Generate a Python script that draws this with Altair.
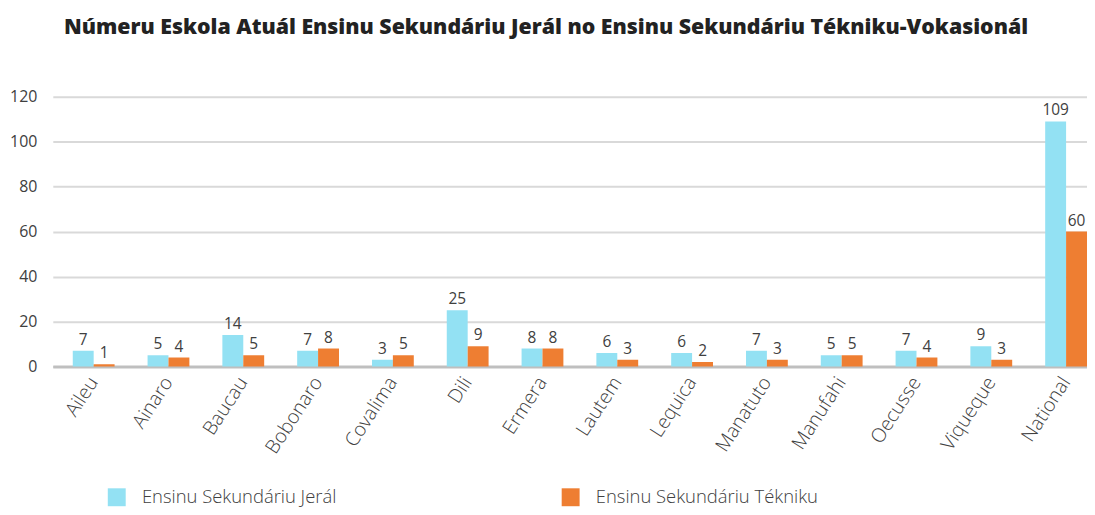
import altair as alt
import pandas as pd

districts = ["Aileu", "Ainaro", "Baucau", "Bobonaro", "Covalima", "Dili", "Ermera",
             "Lautem", "Lequica", "Manatuto", "Manufahi", "Oecusse", "Viqueque", "National"]
jeral = [7, 5, 14, 7, 3, 25, 8, 6, 6, 7, 5, 7, 9, 109]
tekniku = [1, 4, 5, 8, 5, 9, 8, 3, 2, 3, 5, 4, 3, 60]
series = ["Ensinu Sekundáriu Jerál", "Ensinu Sekundáriu Tékniku"]
colors = ["#93e1f3", "#ee7e32"]
y_ticks = [0, 20, 40, 60, 80, 100, 120]
title_text = "Númeru Eskola Atuál Ensinu Sekundáriu Jerál no Ensinu Sekundáriu  Tékniku-Vokasionál"

rows = []
for d, a, b in zip(districts, jeral, tekniku):
    rows.append({"district": d, "series": series[0], "value": a})
    rows.append({"district": d, "series": series[1], "value": b})
df = pd.DataFrame(rows)

FONT = "Open Sans"
TXT = "#404040"

x_enc = alt.X("district:N", sort=districts, title=None,
              scale=alt.Scale(paddingInner=0.441, paddingOuter=0.1335, align=1),
              axis=alt.Axis(labelAngle=303, labelAlign="right", labelBaseline="middle",
                            labelFontSize=19.5, labelFontWeight=300, labelColor=TXT, labelFont=FONT,
                            labelPadding=12, ticks=False, domainColor="#bfbfbf",
                            domainWidth=3, grid=False))
xoff = alt.XOffset("series:N", sort=series, scale=alt.Scale(paddingInner=0, paddingOuter=0))
y_enc = alt.Y("value:Q", title=None,
              scale=alt.Scale(domain=[0, 120], nice=False),
              axis=alt.Axis(values=y_ticks, labelFontSize=16, labelColor=TXT, labelFont=FONT,
                            labelPadding=16, ticks=False, domain=False,
                            gridColor="#d9d9d9", gridWidth=2))

bars = alt.Chart(df).mark_bar().encode(
    x=x_enc, xOffset=xoff, y=y_enc,
    color=alt.Color("series:N", sort=series,
                    scale=alt.Scale(domain=series, range=colors),
                    legend=alt.Legend(title=None, orient="none", legendX=55, legendY=393,
                                      direction="horizontal", symbolType="square",
                                      symbolSize=324, symbolStrokeWidth=0,
                                      labelFontSize=18.5, labelFontWeight=300,
                                      labelFont=FONT, labelColor=TXT,
                                      labelOffset=16, columnPadding=226,
                                      labelLimit=400)),
)

labels = alt.Chart(df).mark_text(baseline="bottom", dy=-3, fontSize=15.5, font=FONT, color=TXT).encode(
    x=alt.X("district:N", sort=districts), xOffset=xoff,
    y=alt.Y("value:Q"), text=alt.Text("value:Q"),
)

chart = alt.layer(bars, labels).properties(
    width=1039, height=271,
    padding={"left": 45, "top": 88, "right": 0, "bottom": 140},
    autosize=alt.AutoSizeParams(type="none"),
    title=alt.Title(title_text, fontSize=21.4, font=FONT, fontWeight=800, color="#222222",
                    anchor="middle", dx=-24, offset=51),
).configure_view(stroke=None).configure_axisY(gridDash=[])

chart.save("out.html", embed_options={"renderer": "svg", "actions": False})
